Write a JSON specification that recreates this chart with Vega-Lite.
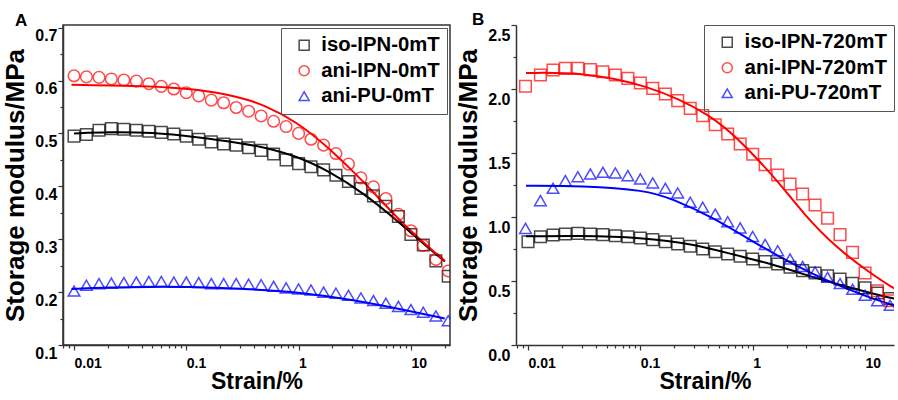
{
  "$schema": "https://vega.github.io/schema/vega-lite/v6.json",
  "padding": {"left": 2, "top": 11, "right": 0, "bottom": 0},
  "spacing": 4,
  "config": {
    "font": "Liberation Sans",
    "view": {"stroke": "#333", "strokeWidth": 1.5},
    "axis": {
      "grid": false,
      "domainColor": "#333",
      "domainWidth": 1.5,
      "tickColor": "#333",
      "tickWidth": 1.2,
      "labelColor": "#000",
      "labelFontWeight": "bold",
      "labelOverlap": false,
      "labelFlush": false,
      "labelBound": false,
      "titleColor": "#000",
      "titleFontWeight": "bold"
    },
    "legend": {
      "strokeColor": "#555",
      "padding": 7,
      "symbolOffset": 6,
      "labelOffset": 7,
      "rowPadding": 4.5,
      "symbolSize": 100,
      "symbolStrokeWidth": 1.5,
      "labelFontWeight": "bold",
      "labelColor": "#000",
      "labelFontSize": 20.3
    }
  },
  "resolve": {
    "scale": {"x": "independent", "y": "independent", "color": "independent", "shape": "independent", "stroke": "independent"}
  },
  "datasets": {
    "ptsA": [
      {"s":0.01,"g":0.495,"series":"iso-IPN-0mT"},{"s":0.0129,"g":0.498,"series":"iso-IPN-0mT"},{"s":0.0167,"g":0.506,"series":"iso-IPN-0mT"},{"s":0.0215,"g":0.509,"series":"iso-IPN-0mT"},{"s":0.0278,"g":0.508,"series":"iso-IPN-0mT"},{"s":0.0359,"g":0.506,"series":"iso-IPN-0mT"},{"s":0.0464,"g":0.504,"series":"iso-IPN-0mT"},{"s":0.0599,"g":0.502,"series":"iso-IPN-0mT"},{"s":0.0774,"g":0.499,"series":"iso-IPN-0mT"},{"s":0.1,"g":0.495,"series":"iso-IPN-0mT"},{"s":0.129,"g":0.489,"series":"iso-IPN-0mT"},{"s":0.167,"g":0.484,"series":"iso-IPN-0mT"},{"s":0.215,"g":0.48,"series":"iso-IPN-0mT"},{"s":0.278,"g":0.478,"series":"iso-IPN-0mT"},{"s":0.359,"g":0.473,"series":"iso-IPN-0mT"},{"s":0.464,"g":0.468,"series":"iso-IPN-0mT"},{"s":0.599,"g":0.461,"series":"iso-IPN-0mT"},{"s":0.774,"g":0.45,"series":"iso-IPN-0mT"},{"s":1,"g":0.443,"series":"iso-IPN-0mT"},{"s":1.29,"g":0.437,"series":"iso-IPN-0mT"},{"s":1.67,"g":0.431,"series":"iso-IPN-0mT"},{"s":2.15,"g":0.421,"series":"iso-IPN-0mT"},{"s":2.78,"g":0.409,"series":"iso-IPN-0mT"},{"s":3.59,"g":0.396,"series":"iso-IPN-0mT"},{"s":4.64,"g":0.382,"series":"iso-IPN-0mT"},{"s":5.99,"g":0.362,"series":"iso-IPN-0mT"},{"s":7.74,"g":0.343,"series":"iso-IPN-0mT"},{"s":10,"g":0.309,"series":"iso-IPN-0mT"},{"s":12.9,"g":0.289,"series":"iso-IPN-0mT"},{"s":16.7,"g":0.259,"series":"iso-IPN-0mT"},{"s":21.5,"g":0.23,"series":"iso-IPN-0mT"},
      {"s":0.01,"g":0.609,"series":"ani-IPN-0mT"},{"s":0.0129,"g":0.607,"series":"ani-IPN-0mT"},{"s":0.0167,"g":0.606,"series":"ani-IPN-0mT"},{"s":0.0215,"g":0.603,"series":"ani-IPN-0mT"},{"s":0.0278,"g":0.601,"series":"ani-IPN-0mT"},{"s":0.0359,"g":0.599,"series":"ani-IPN-0mT"},{"s":0.0464,"g":0.594,"series":"ani-IPN-0mT"},{"s":0.0599,"g":0.589,"series":"ani-IPN-0mT"},{"s":0.0774,"g":0.584,"series":"ani-IPN-0mT"},{"s":0.1,"g":0.577,"series":"ani-IPN-0mT"},{"s":0.129,"g":0.571,"series":"ani-IPN-0mT"},{"s":0.167,"g":0.563,"series":"ani-IPN-0mT"},{"s":0.215,"g":0.558,"series":"ani-IPN-0mT"},{"s":0.278,"g":0.549,"series":"ani-IPN-0mT"},{"s":0.359,"g":0.542,"series":"ani-IPN-0mT"},{"s":0.464,"g":0.533,"series":"ani-IPN-0mT"},{"s":0.599,"g":0.523,"series":"ani-IPN-0mT"},{"s":0.774,"g":0.513,"series":"ani-IPN-0mT"},{"s":1,"g":0.5,"series":"ani-IPN-0mT"},{"s":1.29,"g":0.489,"series":"ani-IPN-0mT"},{"s":1.67,"g":0.478,"series":"ani-IPN-0mT"},{"s":2.15,"g":0.462,"series":"ani-IPN-0mT"},{"s":2.78,"g":0.442,"series":"ani-IPN-0mT"},{"s":3.59,"g":0.416,"series":"ani-IPN-0mT"},{"s":4.64,"g":0.399,"series":"ani-IPN-0mT"},{"s":5.99,"g":0.377,"series":"ani-IPN-0mT"},{"s":7.74,"g":0.347,"series":"ani-IPN-0mT"},{"s":10,"g":0.316,"series":"ani-IPN-0mT"},{"s":12.9,"g":0.288,"series":"ani-IPN-0mT"},{"s":16.7,"g":0.262,"series":"ani-IPN-0mT"},{"s":21.5,"g":0.24,"series":"ani-IPN-0mT"},
      {"s":0.01,"g":0.202,"series":"ani-PU-0mT"},{"s":0.0129,"g":0.213,"series":"ani-PU-0mT"},{"s":0.0167,"g":0.216,"series":"ani-PU-0mT"},{"s":0.0215,"g":0.217,"series":"ani-PU-0mT"},{"s":0.0278,"g":0.218,"series":"ani-PU-0mT"},{"s":0.0359,"g":0.219,"series":"ani-PU-0mT"},{"s":0.0464,"g":0.22,"series":"ani-PU-0mT"},{"s":0.0599,"g":0.22,"series":"ani-PU-0mT"},{"s":0.0774,"g":0.219,"series":"ani-PU-0mT"},{"s":0.1,"g":0.219,"series":"ani-PU-0mT"},{"s":0.129,"g":0.218,"series":"ani-PU-0mT"},{"s":0.167,"g":0.216,"series":"ani-PU-0mT"},{"s":0.215,"g":0.216,"series":"ani-PU-0mT"},{"s":0.278,"g":0.216,"series":"ani-PU-0mT"},{"s":0.359,"g":0.215,"series":"ani-PU-0mT"},{"s":0.464,"g":0.214,"series":"ani-PU-0mT"},{"s":0.599,"g":0.211,"series":"ani-PU-0mT"},{"s":0.774,"g":0.208,"series":"ani-PU-0mT"},{"s":1,"g":0.206,"series":"ani-PU-0mT"},{"s":1.29,"g":0.204,"series":"ani-PU-0mT"},{"s":1.67,"g":0.2,"series":"ani-PU-0mT"},{"s":2.15,"g":0.198,"series":"ani-PU-0mT"},{"s":2.78,"g":0.194,"series":"ani-PU-0mT"},{"s":3.59,"g":0.189,"series":"ani-PU-0mT"},{"s":4.64,"g":0.184,"series":"ani-PU-0mT"},{"s":5.99,"g":0.179,"series":"ani-PU-0mT"},{"s":7.74,"g":0.173,"series":"ani-PU-0mT"},{"s":10,"g":0.167,"series":"ani-PU-0mT"},{"s":12.9,"g":0.162,"series":"ani-PU-0mT"},{"s":16.7,"g":0.155,"series":"ani-PU-0mT"},{"s":21.5,"g":0.146,"series":"ani-PU-0mT"}
    ],
    "lineA": [
      {"s":0.01,"g":0.5,"series":"iso-IPN-0mT"},{"s":0.02,"g":0.503,"series":"iso-IPN-0mT"},{"s":0.05,"g":0.502,"series":"iso-IPN-0mT"},{"s":0.124,"g":0.493,"series":"iso-IPN-0mT"},{"s":0.3,"g":0.482,"series":"iso-IPN-0mT"},{"s":0.49,"g":0.474,"series":"iso-IPN-0mT"},{"s":0.97,"g":0.457,"series":"iso-IPN-0mT"},{"s":1.9,"g":0.428,"series":"iso-IPN-0mT"},{"s":3.8,"g":0.387,"series":"iso-IPN-0mT"},{"s":7.5,"g":0.336,"series":"iso-IPN-0mT"},{"s":14.9,"g":0.28,"series":"iso-IPN-0mT"},{"s":20.1,"g":0.258,"series":"iso-IPN-0mT"},
      {"s":0.0095,"g":0.592,"series":"ani-IPN-0mT"},{"s":0.045,"g":0.59,"series":"ani-IPN-0mT"},{"s":0.124,"g":0.584,"series":"ani-IPN-0mT"},{"s":0.3,"g":0.569,"series":"ani-IPN-0mT"},{"s":0.49,"g":0.554,"series":"ani-IPN-0mT"},{"s":0.97,"g":0.522,"series":"ani-IPN-0mT"},{"s":1.9,"g":0.471,"series":"ani-IPN-0mT"},{"s":3.8,"g":0.409,"series":"ani-IPN-0mT"},{"s":7.5,"g":0.34,"series":"ani-IPN-0mT"},{"s":14.9,"g":0.282,"series":"ani-IPN-0mT"},{"s":20.1,"g":0.259,"series":"ani-IPN-0mT"},
      {"s":0.0095,"g":0.206,"series":"ani-PU-0mT"},{"s":0.02,"g":0.209,"series":"ani-PU-0mT"},{"s":0.05,"g":0.21,"series":"ani-PU-0mT"},{"s":0.1,"g":0.21,"series":"ani-PU-0mT"},{"s":0.3,"g":0.207,"series":"ani-PU-0mT"},{"s":1,"g":0.2,"series":"ani-PU-0mT"},{"s":3,"g":0.186,"series":"ani-PU-0mT"},{"s":10,"g":0.164,"series":"ani-PU-0mT"},{"s":20,"g":0.15,"series":"ani-PU-0mT"}
    ],
    "ptsB": [
      {"s":0.01,"g":0.807,"series":"iso-IPN-720mT"},{"s":0.0129,"g":0.846,"series":"iso-IPN-720mT"},{"s":0.0167,"g":0.859,"series":"iso-IPN-720mT"},{"s":0.0215,"g":0.867,"series":"iso-IPN-720mT"},{"s":0.0278,"g":0.872,"series":"iso-IPN-720mT"},{"s":0.0359,"g":0.867,"series":"iso-IPN-720mT"},{"s":0.0464,"g":0.862,"series":"iso-IPN-720mT"},{"s":0.0599,"g":0.854,"series":"iso-IPN-720mT"},{"s":0.0774,"g":0.846,"series":"iso-IPN-720mT"},{"s":0.1,"g":0.836,"series":"iso-IPN-720mT"},{"s":0.129,"g":0.823,"series":"iso-IPN-720mT"},{"s":0.167,"g":0.807,"series":"iso-IPN-720mT"},{"s":0.215,"g":0.789,"series":"iso-IPN-720mT"},{"s":0.278,"g":0.771,"series":"iso-IPN-720mT"},{"s":0.359,"g":0.75,"series":"iso-IPN-720mT"},{"s":0.464,"g":0.729,"series":"iso-IPN-720mT"},{"s":0.599,"g":0.711,"series":"iso-IPN-720mT"},{"s":0.774,"g":0.693,"series":"iso-IPN-720mT"},{"s":1,"g":0.672,"series":"iso-IPN-720mT"},{"s":1.29,"g":0.651,"series":"iso-IPN-720mT"},{"s":1.67,"g":0.633,"series":"iso-IPN-720mT"},{"s":2.15,"g":0.607,"series":"iso-IPN-720mT"},{"s":2.78,"g":0.581,"series":"iso-IPN-720mT"},{"s":3.59,"g":0.563,"series":"iso-IPN-720mT"},{"s":4.64,"g":0.541,"series":"iso-IPN-720mT"},{"s":5.99,"g":0.516,"series":"iso-IPN-720mT"},{"s":7.74,"g":0.482,"series":"iso-IPN-720mT"},{"s":10,"g":0.446,"series":"iso-IPN-720mT"},{"s":12.9,"g":0.406,"series":"iso-IPN-720mT"},{"s":16.7,"g":0.362,"series":"iso-IPN-720mT"},{"s":21.5,"g":0.33,"series":"iso-IPN-720mT"},
      {"s":0.0095,"g":2.021,"series":"ani-IPN-720mT"},{"s":0.0129,"g":2.109,"series":"ani-IPN-720mT"},{"s":0.0167,"g":2.148,"series":"ani-IPN-720mT"},{"s":0.0215,"g":2.161,"series":"ani-IPN-720mT"},{"s":0.0278,"g":2.161,"series":"ani-IPN-720mT"},{"s":0.0359,"g":2.151,"series":"ani-IPN-720mT"},{"s":0.0464,"g":2.135,"series":"ani-IPN-720mT"},{"s":0.0599,"g":2.109,"series":"ani-IPN-720mT"},{"s":0.0774,"g":2.083,"series":"ani-IPN-720mT"},{"s":0.1,"g":2.047,"series":"ani-IPN-720mT"},{"s":0.129,"g":2.005,"series":"ani-IPN-720mT"},{"s":0.167,"g":1.961,"series":"ani-IPN-720mT"},{"s":0.215,"g":1.909,"series":"ani-IPN-720mT"},{"s":0.278,"g":1.849,"series":"ani-IPN-720mT"},{"s":0.359,"g":1.792,"series":"ani-IPN-720mT"},{"s":0.464,"g":1.721,"series":"ani-IPN-720mT"},{"s":0.599,"g":1.648,"series":"ani-IPN-720mT"},{"s":0.774,"g":1.57,"series":"ani-IPN-720mT"},{"s":1,"g":1.49,"series":"ani-IPN-720mT"},{"s":1.29,"g":1.409,"series":"ani-IPN-720mT"},{"s":1.67,"g":1.328,"series":"ani-IPN-720mT"},{"s":2.15,"g":1.258,"series":"ani-IPN-720mT"},{"s":2.78,"g":1.18,"series":"ani-IPN-720mT"},{"s":3.59,"g":1.094,"series":"ani-IPN-720mT"},{"s":4.64,"g":0.99,"series":"ani-IPN-720mT"},{"s":5.99,"g":0.862,"series":"ani-IPN-720mT"},{"s":7.74,"g":0.724,"series":"ani-IPN-720mT"},{"s":10,"g":0.563,"series":"ani-IPN-720mT"},{"s":12.9,"g":0.424,"series":"ani-IPN-720mT"},{"s":16.7,"g":0.346,"series":"ani-IPN-720mT"},{"s":21.5,"g":0.3,"series":"ani-IPN-720mT"},
      {"s":0.0095,"g":0.911,"series":"ani-PU-720mT"},{"s":0.0129,"g":1.128,"series":"ani-PU-720mT"},{"s":0.0167,"g":1.224,"series":"ani-PU-720mT"},{"s":0.0215,"g":1.284,"series":"ani-PU-720mT"},{"s":0.0278,"g":1.315,"series":"ani-PU-720mT"},{"s":0.0359,"g":1.336,"series":"ani-PU-720mT"},{"s":0.0464,"g":1.349,"series":"ani-PU-720mT"},{"s":0.0599,"g":1.344,"series":"ani-PU-720mT"},{"s":0.0774,"g":1.323,"series":"ani-PU-720mT"},{"s":0.1,"g":1.297,"series":"ani-PU-720mT"},{"s":0.129,"g":1.266,"series":"ani-PU-720mT"},{"s":0.167,"g":1.224,"series":"ani-PU-720mT"},{"s":0.215,"g":1.188,"series":"ani-PU-720mT"},{"s":0.278,"g":1.115,"series":"ani-PU-720mT"},{"s":0.359,"g":1.076,"series":"ani-PU-720mT"},{"s":0.464,"g":1.023,"series":"ani-PU-720mT"},{"s":0.599,"g":0.963,"series":"ani-PU-720mT"},{"s":0.774,"g":0.915,"series":"ani-PU-720mT"},{"s":1,"g":0.848,"series":"ani-PU-720mT"},{"s":1.29,"g":0.785,"series":"ani-PU-720mT"},{"s":1.67,"g":0.737,"series":"ani-PU-720mT"},{"s":2.15,"g":0.672,"series":"ani-PU-720mT"},{"s":2.78,"g":0.613,"series":"ani-PU-720mT"},{"s":3.59,"g":0.571,"series":"ani-PU-720mT"},{"s":4.64,"g":0.529,"series":"ani-PU-720mT"},{"s":5.99,"g":0.48,"series":"ani-PU-720mT"},{"s":7.74,"g":0.435,"series":"ani-PU-720mT"},{"s":10,"g":0.388,"series":"ani-PU-720mT"},{"s":12.9,"g":0.346,"series":"ani-PU-720mT"},{"s":16.7,"g":0.31,"series":"ani-PU-720mT"},{"s":21.5,"g":0.28,"series":"ani-PU-720mT"}
    ],
    "lineB": [
      {"s":0.0096,"g":0.849,"series":"iso-IPN-720mT"},{"s":0.03,"g":0.855,"series":"iso-IPN-720mT"},{"s":0.1,"g":0.84,"series":"iso-IPN-720mT"},{"s":0.3,"g":0.79,"series":"iso-IPN-720mT"},{"s":0.71,"g":0.7,"series":"iso-IPN-720mT"},{"s":1.41,"g":0.638,"series":"iso-IPN-720mT"},{"s":2.79,"g":0.555,"series":"iso-IPN-720mT"},{"s":5.53,"g":0.477,"series":"iso-IPN-720mT"},{"s":10.9,"g":0.41,"series":"iso-IPN-720mT"},{"s":18.2,"g":0.36,"series":"iso-IPN-720mT"},{"s":22,"g":0.35,"series":"iso-IPN-720mT"},
      {"s":0.0096,"g":2.125,"series":"ani-IPN-720mT"},{"s":0.03,"g":2.13,"series":"ani-IPN-720mT"},{"s":0.112,"g":2.04,"series":"ani-IPN-720mT"},{"s":0.44,"g":1.8,"series":"ani-IPN-720mT"},{"s":0.87,"g":1.55,"series":"ani-IPN-720mT"},{"s":1.72,"g":1.27,"series":"ani-IPN-720mT"},{"s":2.79,"g":1.03,"series":"ani-IPN-720mT"},{"s":5.53,"g":0.76,"series":"ani-IPN-720mT"},{"s":10.9,"g":0.568,"series":"ani-IPN-720mT"},{"s":18.2,"g":0.4375,"series":"ani-IPN-720mT"},{"s":22,"g":0.41,"series":"ani-IPN-720mT"},
      {"s":0.0096,"g":1.245,"series":"ani-PU-720mT"},{"s":0.03,"g":1.245,"series":"ani-PU-720mT"},{"s":0.112,"g":1.21,"series":"ani-PU-720mT"},{"s":0.195,"g":1.14,"series":"ani-PU-720mT"},{"s":0.44,"g":0.997,"series":"ani-PU-720mT"},{"s":0.87,"g":0.84,"series":"ani-PU-720mT"},{"s":1.72,"g":0.69,"series":"ani-PU-720mT"},{"s":3.4,"g":0.555,"series":"ani-PU-720mT"},{"s":6.8,"g":0.44,"series":"ani-PU-720mT"},{"s":10.9,"g":0.372,"series":"ani-PU-720mT"},{"s":18.2,"g":0.307,"series":"ani-PU-720mT"},{"s":22,"g":0.29,"series":"ani-PU-720mT"}
    ]
  },
  "hconcat": [
    {
      "width": 387,
      "height": 320,
      "title": {"text": "A", "anchor": "start", "frame": "group", "dx": -48, "offset": -18, "baseline": "alphabetic", "fontSize": 17, "fontWeight": "bold", "color": "#000"},
      "encoding": {
        "x": {"field": "s", "type": "quantitative", "scale": {"type": "log", "domain": [0.00798, 22.3], "nice": false},
          "axis": {"title": "Strain/%", "values": [0.008,0.009,0.01,0.02,0.03,0.04,0.05,0.06,0.07,0.08,0.09,0.1,0.2,0.3,0.4,0.5,0.6,0.7,0.8,0.9,1,2,3,4,5,6,7,8,9,10,20],
            "labelExpr": "datum.value == 0.01 ? '0.01' : datum.value == 0.1 ? '0.1' : datum.value == 1 ? '1' : datum.value == 10 ? '10' : ''",
            "tickSize": {"condition": {"test": "datum.value == 0.01 || datum.value == 0.1 || datum.value == 1 || datum.value == 10", "value": 5}, "value": 3},
            "labelAlign": "left", "labelPadding": 6, "labelFontSize": 14, "titleFontSize": 23, "titlePadding": 0}},
        "y": {"field": "g", "type": "quantitative", "scale": {"domain": [0.1, 0.705], "nice": false, "zero": false},
          "axis": {"title": "Storage modulus/MPa", "values": [0.1,0.15,0.2,0.25,0.3,0.35,0.4,0.45,0.5,0.55,0.6,0.65,0.7],
            "labelExpr": "abs(datum.value*10 - round(datum.value*10)) < 0.001 ? format(datum.value, '.1f') : ''",
            "tickSize": {"condition": {"test": "abs(datum.value*10 - round(datum.value*10)) < 0.001", "value": 5}, "value": 3},
            "labelOffset": 8, "labelPadding": 1, "labelFontSize": 16, "titleFontSize": 26, "titlePadding": 6}},
        "color": {"field": "series", "type": "nominal", "scale": {"domain": ["iso-IPN-0mT", "ani-IPN-0mT", "ani-PU-0mT"], "range": ["#000000", "#ff0000", "#0000ff"]},
          "legend": {"title": null, "orient": "top-right", "offset": 3}}
      },
      "layer": [
        {
          "data": {"name": "lineA"},
          "mark": {"type": "line", "clip": true, "strokeWidth": 2, "interpolate": "basis"}
        },
        {
          "data": {"name": "ptsA"},
          "mark": {"type": "point", "filled": false, "clip": true, "strokeWidth": 1.5, "size": 135},
          "encoding": {
            "shape": {"field": "series", "type": "nominal", "scale": {"domain": ["iso-IPN-0mT", "ani-IPN-0mT", "ani-PU-0mT"], "range": ["square", "circle", "triangle-up"]},
              "legend": {"title": null, "orient": "top-right", "offset": 3}}
          }
        }
      ]
    },
    {
      "width": 378,
      "height": 320,
      "view": {"stroke": null},
      "title": {"text": "B", "anchor": "start", "frame": "group", "dx": -44, "offset": -18, "baseline": "alphabetic", "fontSize": 17, "fontWeight": "bold", "color": "#000"},
      "resolve": {"scale": {"shape": "independent", "color": "independent", "stroke": "independent"}},
      "encoding": {
        "x": {"field": "s", "type": "quantitative", "scale": {"type": "log", "domain": [0.00782, 18.1], "nice": false},
          "axis": {"title": "Strain/%", "values": [0.008,0.009,0.01,0.02,0.03,0.04,0.05,0.06,0.07,0.08,0.09,0.1,0.2,0.3,0.4,0.5,0.6,0.7,0.8,0.9,1,2,3,4,5,6,7,8,9,10],
            "labelExpr": "datum.value == 0.01 ? '0.01' : datum.value == 0.1 ? '0.1' : datum.value == 1 ? '1' : datum.value == 10 ? '10' : ''",
            "tickSize": {"condition": {"test": "datum.value == 0.01 || datum.value == 0.1 || datum.value == 1 || datum.value == 10", "value": 5}, "value": 3},
            "labelAlign": "left", "labelPadding": 6, "labelFontSize": 14, "titleFontSize": 23, "titlePadding": 0}},
        "y": {"field": "g", "type": "quantitative", "scale": {"domain": [0, 2.5], "nice": false, "zero": false},
          "axis": {"title": "Storage modulus/MPa", "values": [0,0.25,0.5,0.75,1,1.25,1.5,1.75,2,2.25,2.5],
            "labelExpr": "abs(datum.value*2 - round(datum.value*2)) < 0.001 ? format(datum.value, '.1f') : ''",
            "tickSize": {"condition": {"test": "abs(datum.value*2 - round(datum.value*2)) < 0.001", "value": 5}, "value": 3},
            "labelOffset": 10, "labelPadding": 1, "labelFontSize": 16, "titleFontSize": 26, "titlePadding": 6}}
      },
      "layer": [
        {
          "data": {"name": "lineB"},
          "mark": {"type": "line", "clip": true, "strokeWidth": 2, "interpolate": "basis"},
          "encoding": {
            "stroke": {"field": "series", "type": "nominal", "scale": {"domain": ["iso-IPN-720mT", "ani-IPN-720mT", "ani-PU-720mT"], "range": ["#000000", "#ff0000", "#0000ff"]}, "legend": null}
          }
        },
        {
          "data": {"name": "ptsB"},
          "mark": {"type": "point", "filled": false, "clip": true, "strokeWidth": 1.5, "size": 135},
          "encoding": {
            "stroke": {"field": "series", "type": "nominal", "scale": {"domain": ["iso-IPN-720mT", "ani-IPN-720mT", "ani-PU-720mT"], "range": ["#000000", "#ff0000", "#0000ff"]}, "legend": null},
            "shape": {"field": "series", "type": "nominal", "scale": {"domain": ["iso-IPN-720mT", "ani-IPN-720mT", "ani-PU-720mT"], "range": ["square", "square", "triangle-up"]}, "legend": null}
          }
        },
        {
          "data": {"values": []},
          "mark": {"type": "point", "filled": false, "clip": true, "strokeWidth": 1.5, "size": 135},
          "encoding": {
            "color": {"field": "series", "type": "nominal", "scale": {"domain": ["iso-IPN-720mT", "ani-IPN-720mT", "ani-PU-720mT"], "range": ["#000000", "#ff0000", "#0000ff"]},
              "legend": {"title": null, "orient": "top-right", "offset": 0, "labelFontSize": 20.5}},
            "shape": {"field": "series", "type": "nominal", "scale": {"domain": ["iso-IPN-720mT", "ani-IPN-720mT", "ani-PU-720mT"], "range": ["square", "circle", "triangle-up"]},
              "legend": {"title": null, "orient": "top-right", "offset": 0, "labelFontSize": 20.5}}
          }
        },
        {
          "data": {"values": [{}]},
          "mark": {"type": "rule", "color": "#333", "strokeWidth": 1.5},
          "encoding": {"x": null, "y": {"datum": 2.5}}
        }
      ]
    }
  ]
}
